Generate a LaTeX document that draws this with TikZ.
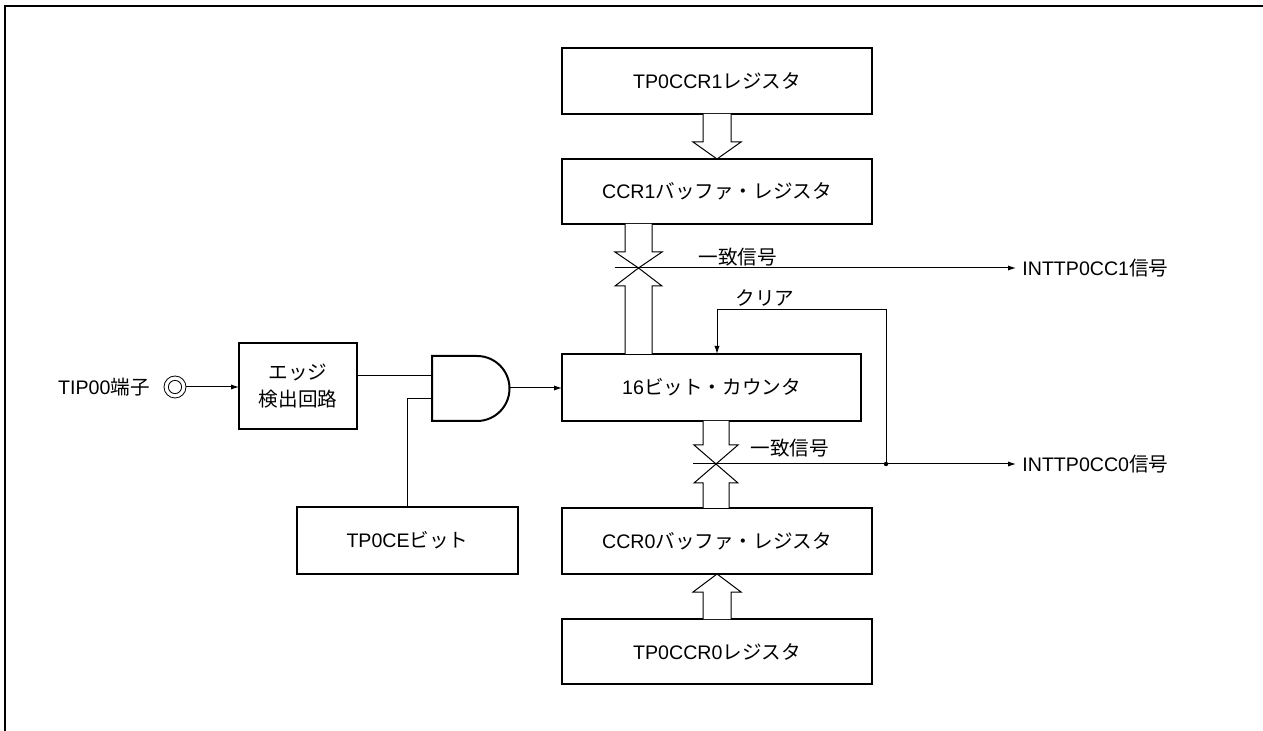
\documentclass[tikz,border=0pt]{standalone}
\usepackage{fontspec}
\setmainfont{Liberation Sans}
\newfontfamily\jp{Noto Sans CJK JP}
\newcommand\J[1]{{\jp #1}}
\usetikzlibrary{calc,arrows.meta}
\begin{document}
\begin{tikzpicture}[x=0.5pt,y=-0.5pt,
  box/.style={draw,line width=1pt,inner sep=0pt,outer sep=0pt,font=\fontsize{9.8}{13.5}\selectfont,align=center},
  lbl/.style={inner sep=0pt,font=\fontsize{9.8}{12}\selectfont},
  sig/.style={line width=0.5pt},
  arr/.style={sig,-{Latex[length=4pt,width=2.6pt]}},
  hollow/.style={line width=0.5pt,fill=white}]
\useasboundingbox (0,0) rectangle (1263,731);
\draw[line width=1.25pt] (5,731) -- (5,6) -- (1263,6);

\node[box,minimum width=155pt,minimum height=33pt] (r1) at (717,81) {TP0CCR1\J{レジスタ}};
\node[box,minimum width=155pt,minimum height=32.5pt] (b1) at (717,191.5) {CCR1\J{バッファ・レジスタ}};
\node[box,minimum width=149.5pt,minimum height=33.5pt] (cnt) at (711.5,387.5) {16\J{ビット・カウンタ}};
\node[box,minimum width=155pt,minimum height=33pt] (b0) at (717,541) {CCR0\J{バッファ・レジスタ}};
\node[box,minimum width=155pt,minimum height=32.5pt] (r0) at (717,651.5) {TP0CCR0\J{レジスタ}};
\node[box,minimum width=59pt,minimum height=43pt] (edge) at (298,386) {\J{エッジ}\\\J{検出回路}};
\node[box,minimum width=110.5pt,minimum height=33.5pt] (ce) at (407.5,540.5) {TP0CE\J{ビット}};

% hollow arrows between registers
\draw[hollow] ($(r1.south)+(-14,0)$) -- ++(0,28) -- ++(-10,0) -- (r1.south |- b1.north) -- ($(r1.south)+(24,28)$) -- ++(-10,0) -- ++(0,-28);
\draw[hollow] ($(r0.north)+(-14,0)$) -- ++(0,-27) -- ++(-10,0) -- (r0.north |- b0.south) -- ($(r0.north)+(24,-27)$) -- ++(-10,0) -- ++(0,27);

% upper crossing
\coordinate (x1) at (638.5,268);
\draw[hollow] ($(x1 |- b1.south)+(-13.5,0)$) -- ($(x1)+(-13.5,-16)$) -- ++(-10,0) -- (x1) -- ($(x1)+(23.5,-16)$) -- ++(-10,0) -- ($(x1 |- b1.south)+(13.5,0)$);
\draw[hollow] ($(x1 |- cnt.north)+(-13.5,0)$) -- ($(x1)+(-13.5,18)$) -- ++(-10,0) -- (x1) -- ($(x1)+(23.5,18)$) -- ++(-10,0) -- ($(x1 |- cnt.north)+(13.5,0)$);

% lower crossing
\coordinate (x0) at (716,464);
\draw[hollow] ($(x0 |- cnt.south)+(-13,0)$) -- ($(x0)+(-13,-19)$) -- ++(-9,0) -- (x0) -- ($(x0)+(22,-19)$) -- ++(-9,0) -- ($(x0 |- cnt.south)+(13,0)$);
\draw[hollow] ($(x0 |- b0.north)+(-13,0)$) -- ($(x0)+(-13,19)$) -- ++(-9,0) -- (x0) -- ($(x0)+(22,19)$) -- ++(-9,0) -- ($(x0 |- b0.north)+(13,0)$);

% outputs
\node[lbl,anchor=west] (o1) at (1022,268) {INTTP0CC1\J{信号}};
\node[lbl,anchor=west] (o0) at (1022,464) {INTTP0CC0\J{信号}};
\draw[arr] ($(x1)+(-24,0)$) -- ($(o1.west)+(-6,0)$);
\draw[arr] ($(x0)+(-23,0)$) -- ($(o0.west)+(-6,0)$);
\node[lbl,anchor=west] (m1) at (698,257) {\J{一致信号}};
\node[lbl,anchor=west] (m0) at (750,448) {\J{一致信号}};

% clear
\coordinate (dot) at (886,464);
\coordinate (clr) at (717,310);
\fill (dot) circle[radius=1.1pt];
\draw[arr] (dot) -- (dot |- clr) -- (clr) -- (clr |- cnt.north);
\node[lbl] (clrl) at (765,298) {\J{クリア}};

% input pin
\node[circle,draw,line width=0.4pt,minimum size=11pt,inner sep=0pt] (pin) at (175,387) {};
\draw[line width=0.4pt] (pin.center) circle[radius=3.3pt];
\node[lbl,anchor=east] (tip) at (150,387) {TIP00\J{端子}};
\draw[arr] (pin.east) -- (pin.east -| edge.west);

% AND gate
\draw[line width=1pt] (432,356) -- (477,356) arc[start angle=90,end angle=-90,radius=16.25pt] -- (432,421) -- cycle;
\coordinate (g1) at (432,376);
\coordinate (g2) at (432,399);
\coordinate (gout) at (509.5,388);
\draw[sig] (g1 -| edge.east) -- (g1);
\draw[sig] (ce.north) |- (g2);
\draw[arr] (gout) -- (gout -| cnt.west);
\end{tikzpicture}
\end{document}
